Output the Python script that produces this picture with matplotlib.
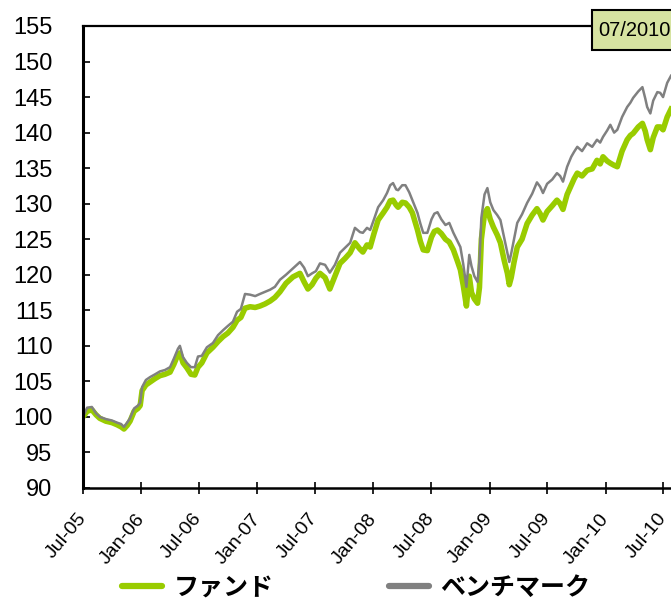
import matplotlib
matplotlib.use("Agg")
import matplotlib.pyplot as plt
import matplotlib.dates as mdates
from matplotlib.patches import Rectangle
import pandas as pd

# cumulative performance, indexed to 100 at Jul-2005
dates = [
    "2005-07-01", "2005-07-14", "2005-07-29", "2005-08-11", "2005-08-23", "2005-09-11",
    "2005-09-30", "2005-10-16", "2005-10-29", "2005-11-07", "2005-11-17", "2005-11-26",
    "2005-12-09", "2005-12-21", "2005-12-28", "2006-01-03", "2006-01-15", "2006-01-28",
    "2006-02-13", "2006-02-28", "2006-03-16", "2006-04-01", "2006-04-13", "2006-04-26",
    "2006-05-02", "2006-05-12", "2006-05-24", "2006-06-06", "2006-06-18", "2006-06-28",
    "2006-07-10", "2006-07-26", "2006-08-14", "2006-08-30", "2006-09-15", "2006-09-30",
    "2006-10-16", "2006-10-29", "2006-11-10", "2006-11-23", "2006-12-09", "2006-12-25",
    "2007-01-09", "2007-01-25", "2007-02-10", "2007-02-25", "2007-03-13", "2007-04-01",
    "2007-04-23", "2007-05-15", "2007-05-28", "2007-06-09", "2007-06-22", "2007-07-04",
    "2007-07-17", "2007-08-02", "2007-08-17", "2007-09-02", "2007-09-18", "2007-10-04",
    "2007-10-20", "2007-11-04", "2007-11-20", "2007-11-29", "2007-12-12", "2007-12-22",
    "2008-01-03", "2008-01-16", "2008-02-01", "2008-02-13", "2008-02-23", "2008-03-03",
    "2008-03-13", "2008-03-19", "2008-04-01", "2008-04-11", "2008-04-23", "2008-05-03",
    "2008-05-19", "2008-05-28", "2008-06-06", "2008-06-19", "2008-07-02", "2008-07-11",
    "2008-07-21", "2008-08-02", "2008-08-15", "2008-08-27", "2008-09-09", "2008-09-21",
    "2008-10-01", "2008-10-10", "2008-10-20", "2008-10-29", "2008-11-05", "2008-11-14",
    "2008-11-24", "2008-11-30", "2008-12-06", "2008-12-16", "2008-12-25", "2009-01-03",
    "2009-01-13", "2009-01-25", "2009-02-04", "2009-02-16", "2009-02-26", "2009-03-04",
    "2009-03-10", "2009-03-19", "2009-03-29", "2009-04-13", "2009-04-29", "2009-05-15",
    "2009-05-30", "2009-06-09", "2009-06-18", "2009-07-01", "2009-07-17", "2009-08-01",
    "2009-08-11", "2009-08-20", "2009-09-02", "2009-09-15", "2009-09-24", "2009-10-04",
    "2009-10-19", "2009-11-04", "2009-11-20", "2009-12-05", "2009-12-15", "2009-12-24",
    "2010-01-06", "2010-01-16", "2010-01-28", "2010-02-07", "2010-02-22", "2010-03-10",
    "2010-03-20", "2010-03-29", "2010-04-14", "2010-04-27", "2010-05-06", "2010-05-12",
    "2010-05-22", "2010-05-31", "2010-06-13", "2010-06-22", "2010-07-01", "2010-07-14",
    "2010-07-26",
]

benchmark = [
    100.0, 101.3, 101.4, 100.5, 100.0, 99.7,
    99.5, 99.2, 99.0, 98.6, 99.2, 99.8,
    101.2, 101.6, 102.0, 104.2, 105.2, 105.6,
    106.0, 106.4, 106.6, 107.0, 108.2, 109.6,
    110.0, 108.4, 107.6, 107.0, 107.0, 108.5,
    108.6, 109.8, 110.4, 111.5, 112.2, 112.8,
    113.4, 114.8, 115.2, 117.3, 117.2, 117.0,
    117.3, 117.6, 117.9, 118.3, 119.3, 120.0,
    120.9, 121.8, 121.0, 119.8, 120.2, 120.5,
    121.6, 121.4, 120.3, 121.4, 123.1, 123.8,
    124.5, 126.6, 126.0, 125.9, 126.6, 126.3,
    127.8, 129.5, 130.5, 131.5, 132.6, 132.9,
    132.0, 131.9, 132.6, 132.6, 131.6, 130.5,
    128.7, 127.2, 125.9, 125.9, 127.8, 128.6,
    128.8, 127.8, 127.0, 127.3, 125.9, 124.8,
    123.9, 121.5, 118.3, 122.8, 121.2, 119.8,
    119.0, 122.0, 128.0, 131.3, 132.2, 130.2,
    129.1, 128.4, 127.7, 125.2, 123.1, 121.8,
    123.0, 125.0, 127.3, 128.5, 130.1, 131.4,
    133.0, 132.4, 131.5, 132.8, 133.4, 134.3,
    133.9, 133.1, 135.2, 136.6, 137.3, 138.0,
    137.4, 138.5, 138.0, 139.0, 138.6, 139.4,
    140.3, 141.1, 140.0, 140.4, 142.2, 143.6,
    144.2, 144.9, 145.8, 146.4, 144.8, 143.6,
    142.7, 144.5, 145.7, 145.6, 145.0, 147.0,
    148.0,
]

fund = [
    100.0, 100.8, 101.0, 100.3, 99.8, 99.4,
    99.2, 98.9, 98.6, 98.3, 98.8, 99.4,
    100.8, 101.2, 101.6, 103.7, 104.5, 104.9,
    105.4, 105.8, 106.0, 106.3, 107.4, 108.8,
    109.0, 107.6, 106.9, 106.0, 105.9, 107.0,
    107.6, 109.0, 109.8, 110.6, 111.3, 111.8,
    112.6, 113.6, 114.0, 115.3, 115.5, 115.4,
    115.6, 115.9, 116.3, 116.8, 117.6, 118.8,
    119.7, 120.2, 119.0, 118.0, 118.6, 119.5,
    120.2, 119.6, 118.0, 119.8, 121.6, 122.3,
    123.1, 124.5, 123.6, 123.2, 124.2, 123.9,
    125.8, 127.7, 128.7, 129.5, 130.4, 130.5,
    129.8, 129.5, 130.2, 130.1, 129.5, 128.7,
    126.3, 124.7, 123.5, 123.4, 125.3, 126.1,
    126.3, 125.8, 125.0, 124.6, 123.5, 122.0,
    120.7, 118.5, 115.6, 119.8, 117.5, 116.6,
    116.0, 118.2, 125.0, 128.6, 129.3, 127.8,
    126.7, 125.6, 124.5, 122.0, 120.2, 118.6,
    119.6, 121.8, 123.9, 125.0, 127.2, 128.4,
    129.3, 128.6, 127.7, 128.9, 129.7, 130.5,
    130.0, 129.2, 131.3, 132.6, 133.5, 134.3,
    133.9, 134.7, 134.9, 136.1, 135.6, 136.6,
    136.0, 135.7, 135.4, 135.2, 137.4, 139.0,
    139.6, 139.9, 140.8, 141.3, 140.2, 139.0,
    137.6, 139.3, 140.8, 140.8, 140.4, 142.2,
    143.3,
]

series_names = ["ファンド", "ベンチマーク"]
as_of = "07/2010"

df = pd.DataFrame({"fund": fund, "benchmark": benchmark}, index=pd.to_datetime(dates))

plt.rcParams["font.family"] = ["Liberation Sans", "DejaVu Sans"]

W, H = 671, 603
fig = plt.figure(figsize=(W / 100, H / 100), dpi=100)
ax = fig.add_axes([83 / W, 1 - 488 / H, 1 - 83 / W, (488 - 26) / H])

ax.plot(df.index, df["fund"], color="#99cc00", lw=4.0, label=series_names[0],
        solid_joinstyle="round")
ax.plot(df.index, df["benchmark"], color="#808080", lw=1.8, label=series_names[1])

ax.set_xlim(pd.Timestamp("2005-07-01"), pd.Timestamp("2010-07-26"))
ax.set_ylim(90, 155)
ax.set_yticks(range(90, 156, 5))

ax.xaxis.set_major_locator(mdates.MonthLocator(bymonth=[1, 7]))
ax.xaxis.set_major_formatter(mdates.DateFormatter("%b-%y"))

ax.spines["right"].set_visible(False)
ax.spines["left"].set_linewidth(2.2)
ax.spines["bottom"].set_linewidth(1.8)
ax.spines["top"].set_linewidth(1.6)

ax.tick_params(axis="y", direction="in", length=5, width=1.2, pad=22, labelsize=17)
ax.tick_params(axis="x", direction="inout", length=8, width=1.2, pad=16, labelsize=14)
for lbl in ax.get_xticklabels():
    lbl.set_rotation(50)
    lbl.set_ha("right")
    lbl.set_va("center")
    lbl.set_rotation_mode("anchor")

# as-of date box in the top right corner
fig.patches.append(Rectangle((592 / W, 1 - 50 / H), 120 / W, 40 / H,
                             transform=fig.transFigure, facecolor="#d6e3a1",
                             edgecolor="black", lw=1.5, zorder=5))
fig.text(598 / W, 1 - 31 / H, as_of, fontsize=14.5, va="center", ha="left", zorder=6)

leg = fig.legend(loc="center", bbox_to_anchor=(356 / W, 1 - 588 / H), ncol=2,
                 frameon=False, handlelength=1.6, handletextpad=0.45,
                 columnspacing=4.6,
                 prop={"family": ["Noto Sans CJK JP", "DejaVu Sans"], "size": 18,
                       "weight": "bold"})
for line in leg.get_lines():
    line.set_linewidth(4.5)
    line.set_solid_capstyle("round")

fig.savefig("out.png", dpi=100)
